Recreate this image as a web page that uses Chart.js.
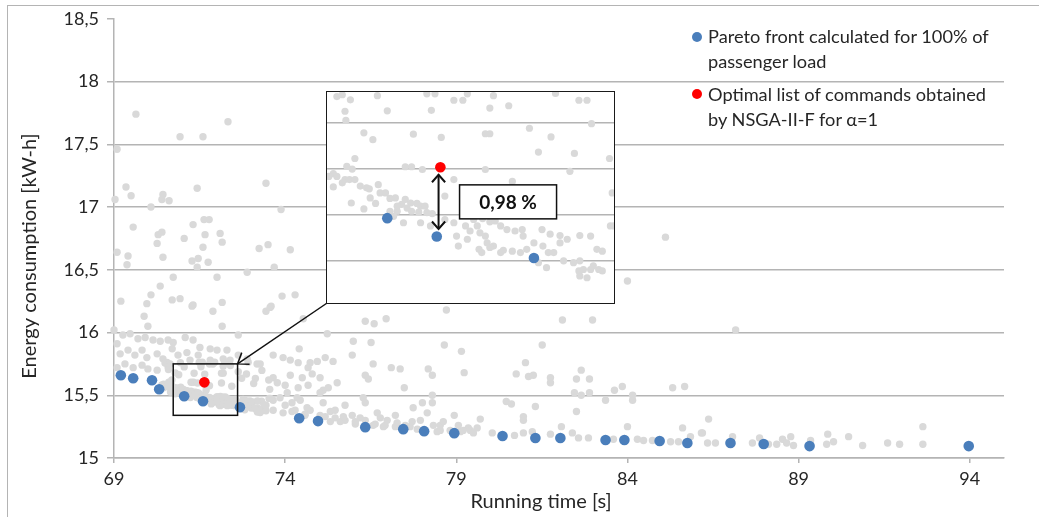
<!DOCTYPE html>
<html>
<head>
<meta charset="utf-8">
<script src="https://cdn.jsdelivr.net/npm/chart.js@4.4.1/dist/chart.umd.min.js"></script>
<style>
  html, body { margin: 0; padding: 0; background: #fff; }
  #wrap { position: relative; width: 1039px; height: 517px; overflow: hidden; font-family: Lato, "Open Sans", sans-serif; color: #262626; }
  #frame { position: absolute; left: 7px; top: 5px; width: 1200px; height: 700px; border: 1.5px solid #b4b4b4; box-sizing: border-box; }
  #main { position: absolute; left: 0; top: 0; }
  #inset { position: absolute; left: 326px; top: 91px; width: 289px; height: 213px; border: 1.5px solid #1a1a1a; box-sizing: border-box; background: #fff; overflow: hidden; }
  #insetBox { position: absolute; left: 0; top: 0; right: 0; bottom: 0; }
  #legend { position: absolute; left: 692px; top: 24px; }
  .item { position: relative; padding-left: 16px; font-size: 18.2px; line-height: 25px; white-space: nowrap; }
  .item + .item { margin-top: 7.5px; }
  .dot { position: absolute; left: 0; top: 7.5px; width: 10px; height: 10px; border-radius: 50%; }
</style>
</head>
<body>
<div id="wrap">
  <div id="frame"></div>
  <canvas id="main" width="1039" height="517"></canvas>
  <div id="inset"><div id="insetBox"><canvas id="insetCanvas"></canvas></div></div>
  <div id="legend"></div>
</div>
<script>
// ---- axis ticks ----
const xTicks = [69, 74, 79, 84, 89, 94];
const yTicks = [15, 15.5, 16, 16.5, 17, 17.5, 18, 18.5];
const insetYTicks = [15.4, 15.5, 15.6, 15.7];

// ---- axis ranges ----
const xRange = [69, 95];
const yRange = [15, 18.5];
const zoomWindow = { x: [70.73, 72.61], y: [15.34, 15.75] };   // framed area on the main plot
const insetRange = { x: [70.38, 73.57], y: [15.307, 15.767] }; // range shown in the magnified view

// ---- series names ----
const seriesNames = [
  ['Pareto front calculated for 100% of', 'passenger load'],
  ['Optimal list of commands obtained', 'by NSGA-II-F for \u03b1=1']
];
const xTitle = 'Running time [s]';
const yTitle = 'Energy consumption [kW-h]';

// ---- Pareto front (running time [s], energy [kWh]) ----
const paretoFront = [
  [69.20, 15.659], [69.56, 15.635], [70.11, 15.619], [70.32, 15.548], [71.05, 15.492],
  [71.60, 15.452], [72.68, 15.405], [74.41, 15.317], [74.96, 15.294], [76.34, 15.246],
  [77.45, 15.230], [78.06, 15.214], [78.94, 15.198], [80.35, 15.175], [81.31, 15.159],
  [82.04, 15.159], [83.36, 15.143], [83.91, 15.143], [84.94, 15.135], [85.75, 15.119],
  [87.01, 15.119], [87.98, 15.111], [89.32, 15.095], [93.97, 15.095]
];

// ---- optimal command list found by NSGA-II-F ----
const optimalCommands = [[71.64, 15.603]];

// ---- other evaluated solutions, spread over the whole plot ----
const otherSolutions = [
  [69.64,17.74],[72.33,17.68],[70.93,17.56],[71.60,17.56],[69.09,17.46],
  [69.35,17.16],[69.50,17.09],[69.03,17.06],[70.43,17.10],[70.40,17.06],[70.61,17.05],[71.43,17.15],[73.44,17.19],[70.08,17.00],[73.88,16.98],
  [69.56,16.84],[71.31,16.86],[71.63,16.90],[71.78,16.90],[70.40,16.80],[70.29,16.78],[71.05,16.75],[71.66,16.78],[72.10,16.79],[72.16,16.72],[70.26,16.71],[71.60,16.68],
  [69.09,16.64],[69.41,16.61],[69.38,16.54],[70.43,16.60],[71.28,16.57],[71.46,16.59],[71.43,16.52],[71.75,16.56],[73.24,16.67],[73.50,16.70],[74.15,16.66],[73.68,16.52],[72.89,16.48],[72.01,16.44],[70.73,16.44],[70.35,16.37],[70.08,16.30],
  [69.20,16.25],[70.70,16.26],[70.93,16.27],[69.96,16.23],[71.31,16.22],[72.16,16.24],[73.91,16.29],[74.29,16.30],[73.59,16.21],[69.88,16.13],[71.89,16.17],[73.44,16.17],[73.56,16.20],[74.53,16.11],[75.23,15.99],[72.63,15.98],[71.28,16.21],[69.99,16.05],[72.16,16.05],
  [69.00,16.02],[69.26,15.98],[69.47,15.99],[69.70,15.95],[69.91,15.96],[70.14,15.94],[70.35,15.93],[70.58,15.94],[70.73,15.92],[71.08,15.96],[71.31,15.94],[71.51,15.88],[71.81,15.87],[72.01,15.86],[72.30,15.86],
  [69.09,15.91],[69.18,15.83],[69.41,15.86],[69.61,15.82],[69.82,15.86],[69.96,15.80],[70.26,15.83],[70.43,15.79],[70.70,15.87],[70.87,15.82],[71.13,15.84],[71.22,15.78],[71.46,15.82],[71.81,15.78],[72.19,15.79],[72.39,15.78],[72.63,15.82],[72.89,15.79],
  [75.17,15.80],[74.73,15.76],[69.09,15.72],[69.32,15.75],[69.56,15.72],[69.82,15.74],[69.99,15.71],[70.26,15.70],
  [73.65,15.82],[73.94,15.80],[74.15,15.78],[74.38,15.76],[74.41,15.87],[74.67,15.72],[74.94,15.77],[75.40,15.77],[74.79,15.67],[75.02,15.64],[73.65,15.64],[73.77,15.60],[74.15,15.66],[74.50,15.64],
  [75.11,15.54],[74.38,15.56],[74.67,15.58],[75.26,15.56],[75.52,15.60],[75.02,15.52],[73.85,15.48],[74.35,15.48],[74.20,15.44],[74.64,15.40],[75.11,15.44],[73.65,15.38],[73.94,15.36],[74.20,15.37],[74.73,15.38],[75.32,15.37],[75.32,15.29],[75.61,15.29],
  [73.65,15.46],[74.00,15.42],[74.44,15.46],[74.58,15.34],[75.02,15.34],[75.46,15.38],[75.75,15.42],[76.05,15.27],[76.34,15.30],[76.78,15.32],[77.22,15.34],[77.51,15.26],[77.95,15.30],[78.53,15.26],[78.82,15.22],[79.06,15.26],[79.35,15.24],
  [74.06,15.52],[74.00,15.58],[74.29,15.38],
  [74.58,15.35],[75.17,15.33],[75.46,15.32],[75.75,15.30],[76.05,15.29],[76.63,15.27],[76.92,15.26],[77.22,15.25],[77.65,15.25],[78.53,15.22],[79.12,15.21],[79.41,15.22],
  [76.34,16.09],[76.60,16.07],[76.95,16.11],[78.71,16.18],[75.99,15.93],[76.51,15.92],[75.96,15.82],[78.65,15.90],[79.15,15.85],[76.57,15.75],[77.10,15.72],[77.36,15.71],[78.18,15.71],[78.30,15.66],[79.23,15.68],
  [76.34,15.66],[76.43,15.63],[77.48,15.56],[76.28,15.48],[76.34,15.44],[78.01,15.44],[78.30,15.44],[78.30,15.50],[77.74,15.40],[78.15,15.36],[78.94,15.34],[78.62,15.29],[75.70,15.33],[75.96,15.34],[76.19,15.32],[76.69,15.36],
  [76.98,15.30],[77.27,15.28],[77.71,15.29],[78.33,15.26],[79.20,15.22],[79.50,15.20],[76.57,15.26],[76.87,15.25],[77.86,15.23],[78.44,15.21],
  [85.11,16.76],[84.00,16.41],[82.10,16.10],[82.98,16.10],[81.51,15.90],[81.02,15.76],[80.75,15.67],[81.11,15.65],[81.25,15.66],[81.75,15.64],[81.75,15.60],[82.65,15.70],[82.51,15.63],[82.89,15.63],
  [82.45,15.52],[82.65,15.50],[82.89,15.52],[83.36,15.46],[83.62,15.54],[83.85,15.57],[84.15,15.50],[84.15,15.46],[85.32,15.56],[85.67,15.57],[80.46,15.45],[80.61,15.43],[81.31,15.41],[82.51,15.37],
  [80.96,15.33],[80.96,15.30],[79.70,15.31],[79.61,15.24],[82.07,15.25],[84.00,15.25],[86.37,15.31],[85.61,15.24],[86.16,15.20],[80.05,15.20],[80.70,15.18],[80.96,15.20],[81.22,15.21],[81.75,15.19],
  [82.39,15.20],[82.57,15.16],[82.86,15.16],[83.59,15.15],[84.29,15.15],[84.47,15.14],[84.73,15.14],[85.26,15.13],[85.49,15.13],[85.84,15.17],[86.34,15.12],[86.57,15.12],
  [87.16,16.02],[86.19,15.20],[87.07,15.17],[87.65,15.12],[87.86,15.16],[88.12,15.11],[88.36,15.11],[88.53,15.15],[88.65,15.12],[88.77,15.17],[88.85,15.10],[89.35,15.14],[89.82,15.11],[89.85,15.19],
  [90.02,15.13],[90.46,15.17],[90.87,15.10],[91.60,15.12],[91.95,15.11],[92.63,15.25],[92.63,15.11]
];

// ---- dense cluster of solutions around the optimum ----
const clusterSolutions = [
  [70.49,15.757],[70.55,15.761],[70.64,15.750],[70.58,15.725],[70.59,15.705],[70.94,15.759],[71.05,15.726],[71.49,15.763],[71.58,15.763],[71.54,15.727],
  [71.79,15.749],[71.89,15.749],[71.94,15.763],[72.19,15.732],[72.23,15.759],[72.40,15.737],[72.92,15.764],[73.18,15.749],[73.27,15.749],[73.32,15.698],
  [72.63,15.688],[72.87,15.669],[72.73,15.636],[73.13,15.633],[73.52,15.622],[70.79,15.678],[70.89,15.663],[71.34,15.675],[71.65,15.668],[72.14,15.676],[72.19,15.676],
  [70.69,15.622],[70.60,15.605],[70.66,15.599],[70.45,15.589],[70.40,15.583],[70.49,15.583],[70.45,15.560],[70.55,15.569],[70.58,15.576],[70.63,15.576],[70.69,15.576],
  [70.75,15.562],[70.82,15.558],[70.95,15.565],[70.85,15.556],[70.97,15.547],[71.03,15.547],[70.86,15.536],[70.65,15.525],[70.79,15.512],[70.92,15.524],[71.08,15.535],[71.14,15.536],
  [71.25,15.604],[71.32,15.604],[71.44,15.598],[71.25,15.533],[71.31,15.525],[71.38,15.524],[71.42,15.518],[71.47,15.518],[71.21,15.522],[71.27,15.514],[71.32,15.507],[71.40,15.505],
  [71.49,15.504],[71.55,15.502],[71.69,15.540],[71.79,15.576],[71.69,15.489],[71.79,15.482],[71.92,15.475],[72.01,15.489],[72.11,15.491],[72.19,15.484],[72.25,15.486],[72.31,15.475],
  [72.38,15.467],[72.47,15.464],[72.55,15.467],[72.56,15.453],[71.97,15.464],[72.05,15.475],[72.08,15.460],[72.14,15.453],[72.16,15.438],[72.23,15.431],[72.34,15.422],[72.44,15.420],
  [72.53,15.417],[72.68,15.438],[72.77,15.467],[72.86,15.457],[72.97,15.454],[72.97,15.438],[73.05,15.446],[72.78,15.431],[73.01,15.399],[73.12,15.395],[73.19,15.399],[73.23,15.380],
  [73.31,15.380],[73.34,15.388],[73.40,15.380],[73.44,15.377],[73.38,15.424],[73.31,15.453],[73.19,15.454],[73.53,15.475],[72.73,15.395],[72.82,15.384],[71.53,15.475],[71.42,15.482],
  [71.82,15.453],[71.94,15.446],[71.84,15.431],[72.07,15.424],[72.10,15.417],[72.19,15.428],[72.31,15.417],[71.23,15.482],[71.16,15.507],[71.12,15.496],[72.90,15.417],[72.60,15.424],
  [72.84,15.417],[73.19,15.366],[73.27,15.362],[73.18,15.377],[72.14,15.598],[72.44,15.572],[73.08,15.594],[73.55,15.547],[73.57,15.475],[73.44,15.420],[71.16,15.518],[71.08,15.507]
];

// ---- styling ----
const FONT = 'Lato, "Open Sans", sans-serif';
const TEXT = '#262626';
const GRID = '#b4b4b4';
const BLUE = '#4a7ebb';
const RED = '#ff0000';
const GREY = '#d9d9d9';

Chart.defaults.font.family = FONT;
Chart.defaults.color = TEXT;

const decimalComma = v => String(v).replace('.', ',');
const toPoints = rows => rows.map(([x, y]) => ({ x, y }));

function makeDatasets(big, small, clip) {
  return [
    { label: seriesNames[1].join(' '), data: toPoints(optimalCommands), backgroundColor: RED, pointRadius: big, borderWidth: 0, clip },
    { label: seriesNames[0].join(' '), data: toPoints(paretoFront), backgroundColor: BLUE, pointRadius: big, borderWidth: 0, clip },
    { label: 'Solutions', data: toPoints(otherSolutions.concat(clusterSolutions)), backgroundColor: GREY, pointRadius: small, borderWidth: 0, clip }
  ];
}

function drawOpenHead(ctx, tipX, tipY, fromX, fromY, len, spread) {
  const a = Math.atan2(fromY - tipY, fromX - tipX);
  ctx.beginPath();
  ctx.moveTo(tipX + len * Math.cos(a + spread), tipY + len * Math.sin(a + spread));
  ctx.lineTo(tipX, tipY);
  ctx.lineTo(tipX + len * Math.cos(a - spread), tipY + len * Math.sin(a - spread));
  ctx.stroke();
}

// frame around the magnified area and leader arrow from the inset
const zoomFramePlugin = {
  id: 'zoomFrame',
  afterDatasetsDraw(chart) {
    const { ctx, scales: { x, y } } = chart;
    const L = x.getPixelForValue(zoomWindow.x[0]);
    const R = x.getPixelForValue(zoomWindow.x[1]);
    const T = y.getPixelForValue(zoomWindow.y[1]);
    const B = y.getPixelForValue(zoomWindow.y[0]);
    ctx.save();
    ctx.strokeStyle = '#111';
    ctx.lineWidth = 1.5;
    ctx.strokeRect(L, T, R - L, B - T);
    const inset = document.getElementById('inset');
    const sx = inset.offsetLeft + 0.75;
    const sy = inset.offsetTop + inset.offsetHeight - 0.75;
    ctx.beginPath();
    ctx.moveTo(sx, sy);
    ctx.lineTo(R, T);
    ctx.stroke();
    drawOpenHead(ctx, R, T, sx, sy, 12, 0.62);
    ctx.restore();
  },
  afterDraw(chart) {
    const { ctx } = chart;
    ctx.save();
    ctx.fillStyle = TEXT;
    ctx.font = '20px ' + FONT;
    ctx.textAlign = 'center';
    ctx.textBaseline = 'middle';
    ctx.fillText(xTitle, 541, 502);
    ctx.translate(30, 256);
    ctx.rotate(-Math.PI / 2);
    ctx.fillText(yTitle, 0, 0);
    ctx.restore();
  }
};

new Chart(document.getElementById('main'), {
  type: 'scatter',
  data: { datasets: makeDatasets(5.3, 3.7, false) },
  options: {
    responsive: false,
    animation: false,
    events: [],
    layout: { autoPadding: false, padding: { left: 0, top: 17, right: 35, bottom: 0 } },
    plugins: { legend: { display: false }, tooltip: { enabled: false } },
    scales: {
      x: {
        type: 'linear',
        min: xRange[0], max: xRange[1],
        afterBuildTicks: s => { s.ticks = xTicks.map(v => ({ value: v })); },
        afterFit: s => { s.height = 59; },
        grid: { display: true, drawOnChartArea: false, drawTicks: true, tickLength: 5, tickColor: GRID, lineWidth: 1.5 },
        border: { display: true, color: GRID, width: 1.5 },
        ticks: { font: { size: 18 }, color: TEXT, padding: 5, maxRotation: 0, autoSkip: false }
      },
      y: {
        type: 'linear',
        min: yRange[0], max: yRange[1],
        afterBuildTicks: s => { s.ticks = yTicks.map(v => ({ value: v })); },
        afterFit: s => { s.width = 114; },
        grid: {
          color: c => (c.tick && c.tick.value === yRange[1]) ? 'rgba(0,0,0,0)' : GRID,
          tickColor: GRID, lineWidth: 1.5, tickLength: 7
        },
        border: { display: true, color: GRID, width: 1.5 },
        ticks: { font: { size: 18 }, color: TEXT, padding: 8, autoSkip: false, callback: v => decimalComma(v) }
      }
    }
  },
  plugins: [zoomFramePlugin]
});

// gap between the optimum and the Pareto point right below it
const gapPlugin = {
  id: 'gap',
  afterDatasetsDraw(chart) {
    const { ctx, scales: { x, y } } = chart;
    const opt = optimalCommands[0];
    const ref = paretoFront.reduce((b, p) => Math.abs(p[0] - opt[0]) < Math.abs(b[0] - opt[0]) ? p : b);
    const ax = (x.getPixelForValue(opt[0]) + x.getPixelForValue(ref[0])) / 2;
    const yTop = y.getPixelForValue(opt[1]) + 7.5;
    const yBot = y.getPixelForValue(ref[1]) - 7.5;
    ctx.save();
    ctx.strokeStyle = '#111';
    ctx.lineWidth = 2;
    ctx.beginPath();
    ctx.moveTo(ax, yTop);
    ctx.lineTo(ax, yBot);
    ctx.stroke();
    drawOpenHead(ctx, ax, yTop, ax, yBot, 10, 0.72);
    drawOpenHead(ctx, ax, yBot, ax, yTop, 10, 0.72);
    const pct = (opt[1] - ref[1]) / ref[1] * 100;
    const label = decimalComma(pct.toFixed(2)) + ' %';
    const bw = 97, bh = 34;
    const bx = ax + 21;
    const by = (yTop + yBot) / 2 - bh / 2;
    ctx.fillStyle = '#fff';
    ctx.fillRect(bx, by, bw, bh);
    ctx.lineWidth = 1.5;
    ctx.strokeRect(bx, by, bw, bh);
    ctx.fillStyle = '#111';
    ctx.font = 'bold 19px ' + FONT;
    ctx.textAlign = 'center';
    ctx.textBaseline = 'middle';
    ctx.fillText(label, bx + bw / 2, by + bh / 2 + 1);
    ctx.restore();
  }
};

new Chart(document.getElementById('insetCanvas'), {
  type: 'scatter',
  data: { datasets: makeDatasets(5.3, 3.6, 0) },
  options: {
    responsive: true,
    maintainAspectRatio: false,
    animation: false,
    events: [],
    layout: { autoPadding: false, padding: 0 },
    plugins: { legend: { display: false }, tooltip: { enabled: false } },
    scales: {
      x: { type: 'linear', display: false, min: insetRange.x[0], max: insetRange.x[1] },
      y: {
        type: 'linear',
        min: insetRange.y[0], max: insetRange.y[1],
        afterBuildTicks: s => { s.ticks = insetYTicks.map(v => ({ value: v })); },
        ticks: { display: false },
        border: { display: false },
        grid: { color: GRID, lineWidth: 1.5, drawTicks: false }
      }
    }
  },
  plugins: [gapPlugin]
});

// legend
const legend = document.getElementById('legend');
[[seriesNames[0], BLUE], [seriesNames[1], RED]].forEach(([lines, color]) => {
  const item = document.createElement('div');
  item.className = 'item';
  const dot = document.createElement('span');
  dot.className = 'dot';
  dot.style.background = color;
  item.appendChild(dot);
  lines.forEach((t, i) => {
    if (i) item.appendChild(document.createElement('br'));
    item.appendChild(document.createTextNode(t));
  });
  legend.appendChild(item);
});
</script>
</body>
</html>
